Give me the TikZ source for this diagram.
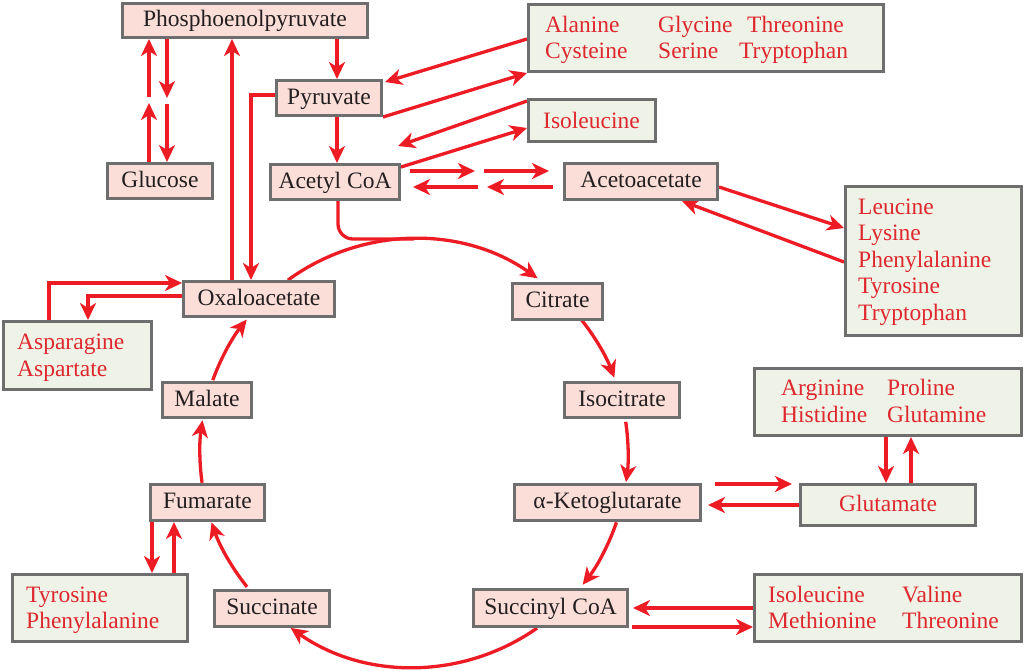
\documentclass[tikz,border=0pt]{standalone}
\usepackage{fontspec}
\setmainfont{Liberation Serif}
\usetikzlibrary{arrows.meta,calc}
\definecolor{lred}{RGB}{237,28,36}
\definecolor{tred}{RGB}{222,40,46}
\definecolor{pinkf}{RGB}{251,222,216}
\definecolor{greenf}{RGB}{239,242,231}
\definecolor{bord}{RGB}{110,110,110}
\definecolor{ink}{RGB}{35,31,32}
\pgfdeclarelayer{bg}
\pgfsetlayers{bg,main}
\begin{document}
\begin{tikzpicture}[x=1pt,y=-1pt,font=\fontsize{23.5}{27}\selectfont,
  pbox/.style={draw=bord,line width=3pt,fill=pinkf,text=ink,inner sep=0pt,text height=17pt,text depth=5pt},
  gbox/.style={draw=bord,line width=3pt,fill=greenf,inner sep=0pt,text height=17pt,text depth=5pt},
  gtxt/.style={text=tred,inner sep=0pt,anchor=base west},
  arr/.style={draw=lred,line width=3.3pt,-{Stealth[length=17pt,width=16pt,inset=5pt]}},
  plainline/.style={draw=lred,line width=3.3pt}]
\useasboundingbox (0,0) rectangle (1024,670);
% pink boxes
\node[pbox,minimum width=245pt,minimum height=34pt] (PEP) at (245,20.5) {Phosphoenolpyruvate};
\node[pbox,minimum width=105pt,minimum height=35pt] (Pyr) at (329,98) {Pyruvate};
\node[pbox,minimum width=105pt,minimum height=35pt] (Glc) at (160,181) {Glucose};
\node[pbox,minimum width=129pt,minimum height=35pt] (Acetyl) at (335,182) {Acetyl CoA};
\node[pbox,minimum width=153pt,minimum height=36pt] (Aceto) at (641,181.5) {Acetoacetate};
\node[pbox,minimum width=151pt,minimum height=35pt] (Oxa) at (259,299) {Oxaloacetate};
\node[pbox,minimum width=90pt,minimum height=36pt] (Cit) at (557.5,301.5) {Citrate};
\node[pbox,minimum width=115pt,minimum height=35pt] (Iso) at (622,400) {Isocitrate};
\node[pbox,minimum width=89pt,minimum height=35pt] (Mal) at (207,400) {Malate};
\node[pbox,minimum width=114pt,minimum height=36pt] (Fum) at (207.5,502.5) {Fumarate};
\node[pbox,minimum width=186pt,minimum height=36pt] (aKG) at (607.5,502.5) {α-Ketoglutarate};
\node[pbox,minimum width=115pt,minimum height=36pt] (Suc) at (272,608.5) {Succinate};
\node[pbox,minimum width=154pt,minimum height=37pt] (SCoA) at (550.5,608) {Succinyl CoA};
% green boxes
\node[gbox,minimum width=355pt,minimum height=67pt] (Ala) at (706,38) {};
\node[gbox,minimum width=127pt,minimum height=42pt] (Ile) at (592,120.5) {};
\node[gbox,minimum width=176pt,minimum height=149pt] (Leu) at (933.5,261) {};
\node[gbox,minimum width=148pt,minimum height=68pt] (Asp) at (77.5,355.5) {};
\node[gbox,minimum width=267pt,minimum height=67pt] (Arg) at (888,402) {};
\node[gbox,minimum width=175pt,minimum height=41pt,text=tred] (Glu) at (888,505) {Glutamate};
\node[gbox,minimum width=175pt,minimum height=67pt] (Tyr) at (100,608) {};
\node[gbox,minimum width=267pt,minimum height=67pt] (IV) at (888,608) {};
% green box texts
\node[gtxt] (t1) at (545,32) {Alanine};
\node[gtxt] (t2) at (658,32) {Glycine};
\node[gtxt] (t3) at (747,32) {Threonine};
\node[gtxt] (t4) at (545,58) {Cysteine};
\node[gtxt] (t5) at (658,58) {Serine};
\node[gtxt] (t6) at (739,58) {Tryptophan};
\node[gtxt] (t7) at (543,128) {Isoleucine};
\node[gtxt] (t8) at (858,214) {Leucine};
\node[gtxt] (t9) at (858,240.5) {Lysine};
\node[gtxt] (t10) at (858,267) {Phenylalanine};
\node[gtxt] (t11) at (858,293.5) {Tyrosine};
\node[gtxt] (t12) at (858,320) {Tryptophan};
\node[gtxt] (t13) at (17,349) {Asparagine};
\node[gtxt] (t14) at (17,376) {Aspartate};
\node[gtxt] (t15) at (781,395) {Arginine};
\node[gtxt] (t16) at (887,395) {Proline};
\node[gtxt] (t17) at (781,422) {Histidine};
\node[gtxt] (t18) at (887,422) {Glutamine};
\node[gtxt] (t19) at (26,602) {Tyrosine};
\node[gtxt] (t20) at (26,628) {Phenylalanine};
\node[gtxt] (t21) at (768,602) {Isoleucine};
\node[gtxt] (t22) at (902,602) {Valine};
\node[gtxt] (t23) at (768,628) {Methionine};
\node[gtxt] (t24) at (902,628) {Threonine};
% helper coordinates
\coordinate (C) at (414,453);
\coordinate (top) at (414,239);
\coordinate (g1) at (149,103);
\coordinate (g2) at (149,97);
\coordinate (g3) at (167,98);
\coordinate (g4) at (167,104);
\coordinate (m1) at (475,171);
\coordinate (m2) at (484,171);
\coordinate (m3) at (487,187);
\coordinate (m4) at (478,187);
\coordinate (ka) at (0,484);
\coordinate (kb) at (0,627);
\begin{pgfonlayer}{bg}
% Glucose <-> PEP
\draw[arr] (Glc.north -| g1) -- (g1);
\draw[arr] (g2) -- (PEP.south -| g2);
\draw[arr] (PEP.south -| g3) -- (g3);
\draw[arr] (g4) -- (Glc.north -| g4);
% Oxaloacetate -> PEP
\draw[arr] ([xshift=-27pt]Oxa.north) -- ([xshift=-27pt]Oxa.north |- PEP.south);
% Pyruvate -> Oxaloacetate
\draw[arr] ([yshift=3pt]Pyr.west) -| ([xshift=-8pt]Oxa.north);
% PEP -> Pyruvate -> Acetyl CoA
\draw[arr] ([xshift=8pt]Pyr.north |- PEP.south) -- ([xshift=8pt]Pyr.north);
\draw[arr] ([xshift=8pt]Pyr.south) -- ([xshift=8pt]Pyr.south |- Acetyl.north);
% Alanine box <-> Pyruvate
\draw[arr] ([yshift=-1pt]Ala.west) -- ([xshift=2pt,yshift=-3pt]Pyr.north east);
\draw[arr] (Pyr.south east) -- (Ala.south west);
% Isoleucine <-> Acetyl CoA
\draw[arr] ([yshift=-3pt]Ile.north west) -- ([xshift=-3pt,yshift=17pt]Acetyl.north east);
\draw[arr] ([yshift=-4pt]Acetyl.north east) -- ([yshift=15pt]Ile.south west);
% Acetyl CoA <-> Acetoacetate
\draw[arr] ([xshift=9pt]Acetyl.east |- m1) -- (m1);
\draw[arr] (m2) -- ([xshift=-14pt]Aceto.west |- m2);
\draw[arr] ([xshift=-10pt]Aceto.west |- m3) -- (m3);
\draw[arr] (m4) -- ([xshift=12pt]Acetyl.east |- m4);
% Acetoacetate <-> Leucine box
\draw[arr] ([yshift=-5.5pt]Aceto.east) -- ([yshift=33pt]Leu.west);
\draw[arr] ([yshift=-1pt]Leu.west) -- ([xshift=41pt]Aceto.south);
% Acetyl CoA into cycle
\draw[plainline,rounded corners=15pt] ([xshift=3pt]Acetyl.south) |- (top);
% cycle
\draw[arr] ($(C)+(126.1:214pt)$) arc[start angle=126.1,end angle=54.7,radius=214pt];
\draw[arr] ($(C)+(38.5:214pt)$) arc[start angle=38.5,end angle=20.6,radius=214pt];
\draw[arr] ($(C)+(8.4:214pt)$) arc[start angle=8.4,end angle=-7.8,radius=214pt];
\draw[arr] ($(C)+(-18.9:214pt)$) arc[start angle=-18.9,end angle=-38,radius=214pt];
\draw[arr] ($(C)+(-54.9:214pt)$) arc[start angle=-54.9,end angle=-125.2,radius=214pt];
\draw[arr] ($(C)+(218.7:214pt)$) arc[start angle=218.7,end angle=198.9,radius=214pt];
\draw[arr] ($(C)+(188:214pt)$) arc[start angle=188,end angle=171.2,radius=214pt];
\draw[arr] ($(C)+(160.1:214pt)$) arc[start angle=160.1,end angle=141.4,radius=214pt];
% Asparagine <-> Oxaloacetate
\draw[arr] ([xshift=-28.5pt]Asp.north) |- ([yshift=16pt]Oxa.west);
\draw[arr] ([yshift=3pt]Oxa.west) -| ([xshift=10.5pt]Asp.north);
% Fumarate <-> Tyrosine box
\draw[arr] ([xshift=-55.5pt]Fum.south) -- ([xshift=-55.5pt]Fum.south |- Tyr.north);
\draw[arr] ([xshift=-33.5pt]Fum.south |- Tyr.north) -- ([xshift=-33.5pt]Fum.south);
% alpha-KG <-> Glutamate
\draw[arr] ([xshift=13pt]aKG.east |- ka) -- ([xshift=-7pt]Glu.west |- ka);
\draw[arr] (Glu.west) -- ([xshift=6pt]aKG.east |- Glu.west);
% Glutamate <-> Arginine box
\draw[arr] ([xshift=-2pt]Arg.south) -- ([xshift=-2pt]Arg.south |- Glu.north);
\draw[arr] ([xshift=23pt]Glu.north) -- ([xshift=23pt]Glu.north |- Arg.south);
% Succinyl CoA <-> Isoleucine/Valine box
\draw[arr] (IV.west) -- ([xshift=4pt]SCoA.east |- IV.west);
\draw[arr] ([xshift=3pt]SCoA.east |- kb) -- (IV.west |- kb);
\end{pgfonlayer}
\end{tikzpicture}
\end{document}
